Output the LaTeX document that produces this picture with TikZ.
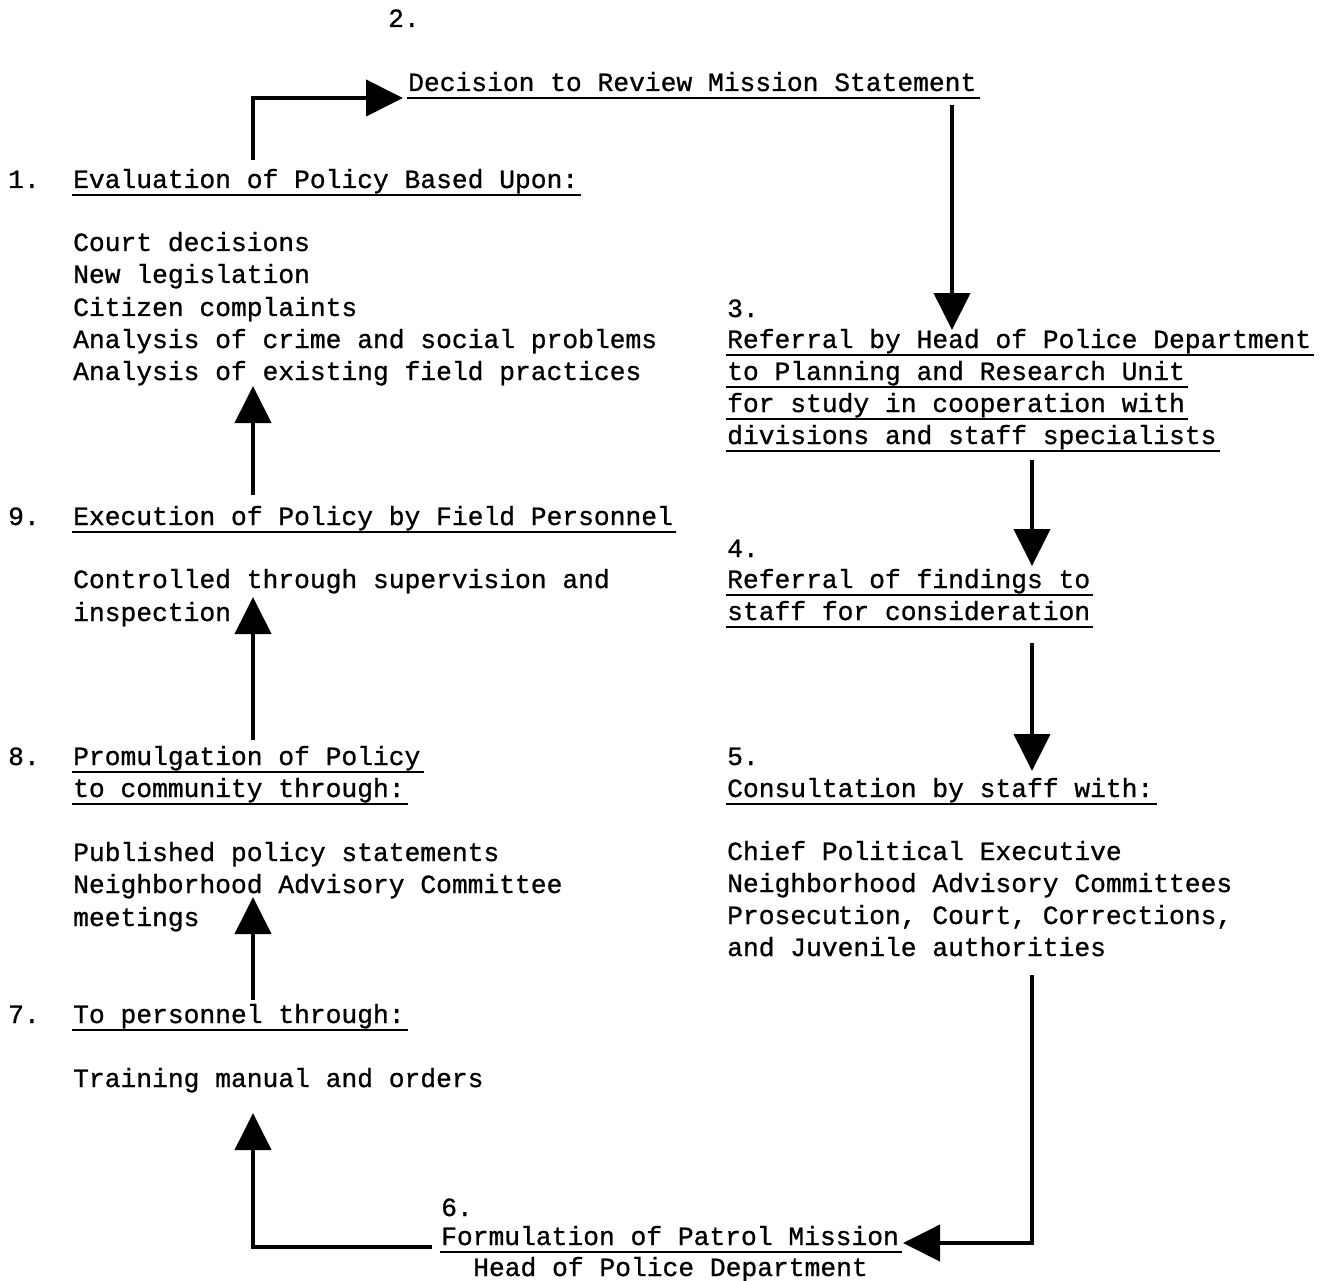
\documentclass[tikz,border=0pt]{standalone}
\usepackage{fontspec}
\newfontfamily\typewriter[FakeBold=0.9]{Liberation Mono}
\usetikzlibrary{arrows.meta}
% one underlined heading line: name, x, baseline y, text
\newcommand\headline[4]{%
  \node[txt] (#1) at (#2,#3) {#4};
  \draw[uline] ([shift={(-1pt,-7pt)}]#1.base west) -- ([shift={(3pt,-7pt)}]#1.base east);}
\begin{document}
\begin{tikzpicture}[x=1pt,y=-1pt,
  txt/.style={anchor=base west, inner sep=0pt,
    font=\fontsize{26.3}{32}\selectfont\typewriter},
  flow/.style={line width=4pt, -{Triangle[width=36pt,length=37pt]}},
  uline/.style={line width=1.8pt}]
\useasboundingbox (0,0) rectangle (1330,1281);

% step 2
\node[txt] (n2num) at (388,27) {2.};
\headline{n2}{408}{91}{Decision to Review Mission Statement}

% step 1
\node[txt] (n1num) at (8,188) {1.};
\headline{n1}{73}{188}{Evaluation of Policy Based Upon:}
\node[txt] (n1a) at (73,251) {Court decisions};
\node[txt] (n1b) at (73,283) {New legislation};
\node[txt] (n1c) at (73,316) {Citizen complaints};
\node[txt] (n1d) at (73,348) {Analysis of crime and social problems};
\node[txt] (n1e) at (73,380) {Analysis of existing field practices};

% step 9
\node[txt] (n9num) at (8,525) {9.};
\headline{n9}{73}{525}{Execution of Policy by Field Personnel}
\node[txt] (n9a) at (73,588) {Controlled through supervision and};
\node[txt] (n9b) at (73,621) {inspection};

% step 8
\node[txt] (n8num) at (8,765) {8.};
\headline{n8}{73}{765}{Promulgation of Policy}
\headline{n8b}{73}{797}{to community through:}
\node[txt] (n8c) at (73,861) {Published policy statements};
\node[txt] (n8d) at (73,893) {Neighborhood Advisory Committee};
\node[txt] (n8e) at (73,926) {meetings};

% step 7
\node[txt] (n7num) at (8,1023) {7.};
\headline{n7}{73}{1023}{To personnel through:}
\node[txt] (n7a) at (73,1087) {Training manual and orders};

% step 6
\node[txt] (n6num) at (441,1216) {6.};
\headline{n6}{441}{1245}{Formulation of Patrol Mission}
\node[txt] (n6b) at (473,1276) {Head of Police Department};

% step 3
\node[txt] (n3num) at (727,317) {3.};
\headline{n3}{727}{348}{Referral by Head of Police Department}
\headline{n3b}{727}{380}{to Planning and Research Unit}
\headline{n3c}{727}{412}{for study in cooperation with}
\headline{n3d}{727}{444}{divisions and staff specialists}

% step 4
\node[txt] (n4num) at (727,557) {4.};
\headline{n4}{727}{588}{Referral of findings to}
\headline{n4b}{727}{620}{staff for consideration}

% step 5
\node[txt] (n5num) at (727,765) {5.};
\headline{n5}{727}{797}{Consultation by staff with:}
\node[txt] (n5a) at (727,860) {Chief Political Executive};
\node[txt] (n5b) at (727,892) {Neighborhood Advisory Committees};
\node[txt] (n5c) at (727,924) {Prosecution, Court, Corrections,};
\node[txt] (n5d) at (727,956) {and Juvenile authorities};

% connector end points
\coordinate (c12a) at (253,160);
\coordinate (c12b) at (403,98);
\coordinate (c23a) at (952,105);
\coordinate (c23b) at (952,330);
\coordinate (c34a) at (1032,460);
\coordinate (c34b) at (1032,566);
\coordinate (c45a) at (1032,643);
\coordinate (c45b) at (1032,771);
\coordinate (c56a) at (1032,975);
\coordinate (c56b) at (903,1243);
\coordinate (c67a) at (432,1247);
\coordinate (c67b) at (253,1113);
\coordinate (c78a) at (253,1000);
\coordinate (c78b) at (253,897);
\coordinate (c89a) at (253,740);
\coordinate (c89b) at (253,597);
\coordinate (c91a) at (253,495);
\coordinate (c91b) at (253,386);

% the cycle of arrows
\draw[flow] (c12a) |- (c12b);
\draw[flow] (c23a) -- (c23b);
\draw[flow] (c34a) -- (c34b);
\draw[flow] (c45a) -- (c45b);
\draw[flow] (c56a) |- (c56b);
\draw[flow] (c67a) -| (c67b);
\draw[flow] (c78a) -- (c78b);
\draw[flow] (c89a) -- (c89b);
\draw[flow] (c91a) -- (c91b);
\end{tikzpicture}
\end{document}
